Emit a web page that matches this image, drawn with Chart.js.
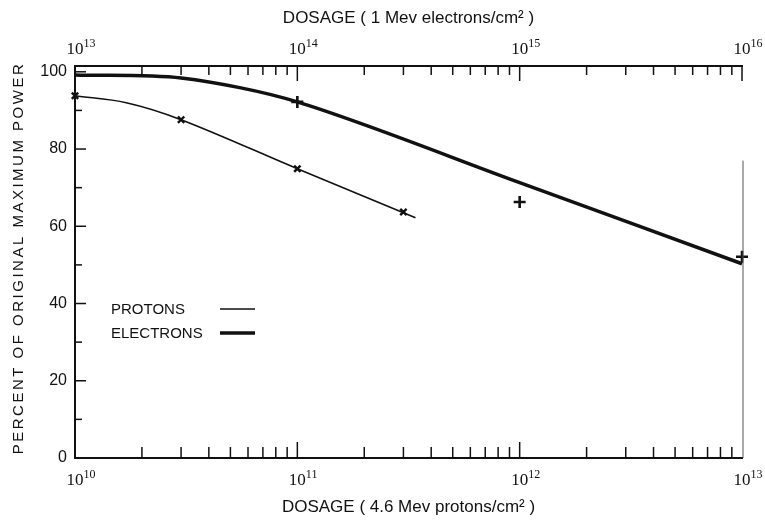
<!DOCTYPE html>
<html>
<head>
<meta charset="utf-8">
<script src="https://cdn.jsdelivr.net/npm/chart.js@4.4.1/dist/chart.umd.min.js"></script>
<style>
    body { margin: 0; background: #fff; }
</style>
</head>
<body>
<canvas id="dosageChart" width="765" height="524"></canvas>
<script>
// Protons (bottom axis, 4.6 Mev protons/cm2)
const protonDose = [1e10, 1.7e10, 3e10, 1e11, 3.4e11];
const protonPower = [93.8, 92.0, 87.6, 74.9, 62.2];
const protonMarkDose = [1e10, 3e10, 1e11, 3e11];
const protonMarkPower = [93.8, 87.6, 74.9, 63.7];

// Electrons (top axis, 1 Mev electrons/cm2)
const electronDose = [1e13, 3e13, 1e14, 1e15, 1e16];
const electronPower = [99.2, 98.4, 92.2, 71.3, 50.3];
const electronMarkDose = [1e14, 1e15, 1e16];
const electronMarkPower = [92.2, 66.3, 52.1];

// Axes
const protonRange = [1e10, 1e13];
const electronRange = [1e13, 1e16];
const yRange = [0, 101.5];
const yLabelStep = 20;
const yTickStep = 10;

const SANS = '"Liberation Sans", Arial, sans-serif';
const NARROW = '"Liberation Sans Narrow", "Liberation Sans", Arial, sans-serif';
const SERIF = '"Liberation Serif", "Times New Roman", serif';

function toPoints(xs, ys) {
    return xs.map((x, i) => ({ x: x, y: ys[i] }));
}

function logTickValues(min, max) {
    const out = [];
    for (let e = Math.round(Math.log10(min)); e <= Math.round(Math.log10(max)); e++) {
        for (let m = 1; m <= 9; m++) {
            const v = m * Math.pow(10, e);
            if (v >= min && v <= max) out.push(v);
        }
    }
    return out;
}

function isPow10(v) {
    const l = Math.log10(v);
    return Math.abs(l - Math.round(l)) < 1e-9;
}

// Inward ticks, power-of-ten labels, y title, legend
const paperAxes = {
    id: 'paperAxes',
    afterDraw(chart) {
        const ctx = chart.ctx;
        const { left, right, top, bottom } = chart.chartArea;
        const xb = chart.scales.x;
        const xt = chart.scales.x2;
        const ys = chart.scales.y;

        function seg(x1, y1, x2, y2, w) {
            ctx.lineWidth = w;
            ctx.beginPath();
            ctx.moveTo(x1, y1);
            ctx.lineTo(x2, y2);
            ctx.stroke();
        }

        ctx.save();
        ctx.strokeStyle = '#111';
        ctx.fillStyle = '#111';

        // bottom axis ticks
        logTickValues(protonRange[0], protonRange[1]).forEach(v => {
            const px = xb.getPixelForValue(v);
            if (px < left + 2 || px > right - 2) return;
            seg(px, bottom, px, bottom - (isPow10(v) ? 16 : 11), 1.5);
        });
        // top axis ticks
        logTickValues(electronRange[0], electronRange[1]).forEach(v => {
            const px = xt.getPixelForValue(v);
            if (px < left + 2 || px > right + 2) return;
            seg(px, top, px, top + (isPow10(v) ? 15 : 9), 1.5);
        });
        // left axis ticks
        for (let v = yRange[0] + yTickStep; v <= 100; v += yTickStep) {
            const py = ys.getPixelForValue(v);
            seg(left, py, left + (v % yLabelStep === 0 ? 11 : 7), py, 1.5);
        }

        // partial right edge line
        ctx.strokeStyle = '#555';
        const rx = xb.getPixelForValue(protonRange[1]) + 1;
        seg(rx, ys.getPixelForValue(77), rx, bottom, 1);
        ctx.strokeStyle = '#111';

        // power-of-ten labels
        function powLabel(v, px, py) {
            const exp = String(Math.round(Math.log10(v)));
            ctx.font = '17px ' + SERIF;
            ctx.textAlign = 'center';
            ctx.textBaseline = 'alphabetic';
            const w = ctx.measureText('10').width;
            ctx.fillText('10', px, py);
            ctx.font = '12px ' + SERIF;
            ctx.textAlign = 'left';
            ctx.fillText(exp, px + w / 2, py - 7);
        }
        logTickValues(protonRange[0], protonRange[1]).filter(isPow10).forEach(v => {
            powLabel(v, xb.getPixelForValue(v), 485);
        });
        logTickValues(electronRange[0], electronRange[1]).filter(isPow10).forEach(v => {
            powLabel(v, xt.getPixelForValue(v), 54);
        });

        // y title
        ctx.save();
        ctx.translate(19, (top + bottom) / 2 - 4);
        ctx.rotate(-Math.PI / 2);
        ctx.font = '15px ' + SANS;
        ctx.letterSpacing = '2.5px';
        ctx.textAlign = 'center';
        ctx.textBaseline = 'middle';
        ctx.fillText('PERCENT OF ORIGINAL MAXIMUM POWER', 0, 0);
        ctx.restore();

        // legend
        ctx.font = '15px ' + SANS;
        ctx.textAlign = 'left';
        ctx.textBaseline = 'middle';
        ctx.fillText('PROTONS', left + 36, 310);
        ctx.fillText('ELECTRONS', left + 36, 334);
        seg(left + 145, 309, left + 180, 309, 1.5);
        seg(left + 145, 333, left + 180, 333, 3.5);

        ctx.restore();
    }
};

document.addEventListener('DOMContentLoaded', () => {
    const ctx = document.getElementById('dosageChart');

    new Chart(ctx, {
        type: 'scatter',
        data: {
            datasets: [
                {
                    label: 'PROTONS',
                    data: toPoints(protonDose, protonPower),
                    xAxisID: 'x',
                    showLine: true,
                    borderColor: '#111',
                    borderWidth: 1.6,
                    pointRadius: 0,
                    tension: 0.35,
                    clip: false,
                },
                {
                    label: 'PROTONS points',
                    data: toPoints(protonMarkDose, protonMarkPower),
                    xAxisID: 'x',
                    showLine: false,
                    pointStyle: 'crossRot',
                    pointRadius: 4.5,
                    borderColor: '#111',
                    borderWidth: 2.4,
                    clip: false,
                },
                {
                    label: 'ELECTRONS',
                    data: toPoints(electronDose, electronPower),
                    xAxisID: 'x2',
                    showLine: true,
                    borderColor: '#111',
                    borderWidth: 3.5,
                    pointRadius: 0,
                    tension: 0.3,
                    clip: false,
                },
                {
                    label: 'ELECTRONS points',
                    data: toPoints(electronMarkDose, electronMarkPower),
                    xAxisID: 'x2',
                    showLine: false,
                    pointStyle: 'cross',
                    pointRadius: 6,
                    borderColor: '#111',
                    borderWidth: 2.6,
                    clip: false,
                }
            ]
        },
        options: {
            responsive: false,
            animation: false,
            layout: {
                padding: { left: 0, right: 23, top: 0, bottom: 0 }
            },
            plugins: {
                legend: { display: false },
                tooltip: { enabled: false }
            },
            scales: {
                x: {
                    type: 'logarithmic',
                    position: 'bottom',
                    min: protonRange[0],
                    max: protonRange[1],
                    grid: { display: false, drawTicks: false },
                    border: { display: true, color: '#111', width: 2 },
                    ticks: { display: false },
                    title: {
                        display: true,
                        text: 'DOSAGE ( 4.6 Mev protons/cm² )',
                        color: '#111',
                        font: { family: NARROW, size: 17 },
                        padding: { top: 0, bottom: 6 }
                    },
                    afterFit: scale => { scale.height = 66; }
                },
                x2: {
                    type: 'logarithmic',
                    position: 'top',
                    min: electronRange[0],
                    max: electronRange[1],
                    grid: { display: false, drawTicks: false },
                    border: { display: true, color: '#111', width: 2 },
                    ticks: { display: false },
                    title: {
                        display: true,
                        text: 'DOSAGE ( 1 Mev electrons/cm² )',
                        color: '#111',
                        font: { family: NARROW, size: 17 },
                        padding: { top: 8, bottom: 0 }
                    },
                    afterFit: scale => { scale.height = 66; }
                },
                y: {
                    min: yRange[0],
                    max: yRange[1],
                    grid: { display: false, drawTicks: false },
                    border: { display: true, color: '#111', width: 2 },
                    ticks: {
                        stepSize: yTickStep,
                        includeBounds: false,
                        padding: 8,
                        color: '#111',
                        font: { family: SANS, size: 16 },
                        callback: v => (v % yLabelStep === 0 ? v : '')
                    },
                    afterFit: scale => { scale.width = 75; }
                }
            }
        },
        plugins: [paperAxes]
    });
});
</script>
</body>
</html>
